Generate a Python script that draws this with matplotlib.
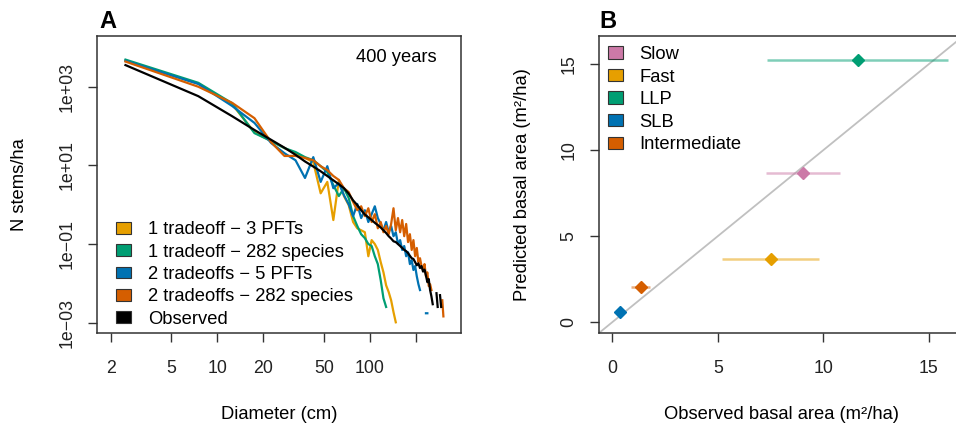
import numpy as np
import matplotlib
matplotlib.use("Agg")
import matplotlib.pyplot as plt
from matplotlib.patches import Rectangle
from matplotlib.ticker import NullLocator, FixedLocator, FixedFormatter

plt.rcParams['font.family'] = ['Liberation Sans', 'DejaVu Sans']

nan = np.nan

# ---------------- Panel A data: size distributions (log10 N stems/ha) -----------
diameter_cm = [2.5, 7.5, 12.5, 17.5, 22.5, 27.5, 32.5, 37.5, 42.5, 47.5,
               52.5, 57.5, 62.5, 67.5, 72.5, 77.5, 82.5, 87.5, 92.5, 97.5,
               102.5, 107.5, 112.5, 117.5, 122.5, 127.5, 132.5, 137.5, 142.5, 147.5,
               152.5, 157.5, 162.5, 167.5, 172.5, 177.5, 182.5, 187.5, 192.5, 197.5,
               202.5, 207.5, 212.5, 217.5, 222.5, 227.5, 232.5, 237.5, 242.5, 247.5,
               252.5, 257.5, 262.5, 267.5, 272.5, 277.5, 282.5, 287.5, 292.5, 297.5,
               302.5]

tradeoff1_3pft_log = [3.66, 3.08, 2.55, 1.84, 1.62, 1.44, 1.31, 1.19, 1.08, 0.29,
                      0.58, -0.39, 0.63, 0.22, -0.01, -0.44, -0.60, -0.65, -0.70, -1.31,
                      -0.90, -1.00, -1.15, -1.46, -1.72, -2.05, -2.22, -2.43, -2.73, -2.99,
                      nan, nan, nan, nan, nan, nan, nan, nan, nan, nan,
                      nan, nan, nan, nan, nan, nan, nan, nan, nan, nan,
                      nan, nan, nan, nan, nan, nan, nan, nan, nan, nan,
                      nan]

tradeoff1_282sp_log = [3.69, 3.10, 2.58, 1.82, 1.62, 1.44, 1.34, 1.21, 1.13, 0.98,
                       0.83, 0.50, 0.22, 0.42, 0.17, -0.29, -0.54, -0.75, -0.85, -1.00,
                       -1.05, -1.31, -1.51, -1.92, -2.38, -2.60, nan, nan, nan, nan,
                       nan, nan, nan, nan, nan, nan, nan, nan, nan, nan,
                       nan, nan, nan, nan, nan, nan, nan, nan, nan, nan,
                       nan, nan, nan, nan, nan, nan, nan, nan, nan, nan,
                       nan]

tradeoff2_5pft_log = [3.66, 3.07, 2.51, 2.08, 1.57, 1.31, 1.13, 0.68, 1.21, 0.58,
                      0.98, 0.42, 0.55, 0.24, 0.01, -0.29, 0.02, -0.34, -0.14, -0.44,
                      -0.24, -0.04, -0.34, -0.49, -0.65, -0.44, -0.70, -0.54, -0.80, -0.70,
                      -1.00, -0.90, -1.15, -1.05, -1.31, -1.21, -1.51, -1.41, -1.66, -1.56,
                      -1.82, -2.02, -2.17, nan, nan, nan, -2.76, -2.76, nan, nan,
                      nan, nan, nan, nan, nan, nan, nan, nan, nan, nan,
                      nan]

tradeoff2_282sp_log = [3.64, 3.00, 2.59, 2.20, 1.59, 1.24, 1.24, 1.19, 1.13, 0.98,
                       0.88, 0.73, 0.63, 0.42, 0.32, 0.07, -0.14, -0.04, -0.29, -0.09,
                       -0.44, -0.24, -0.60, -0.44, -0.70, -0.54, -0.75, -0.49, -0.09, -0.65,
                       -0.34, -0.70, -0.39, -0.80, -0.49, -0.95, -0.75, -1.15, -0.90, -1.31,
                       -1.10, -1.46, -1.36, -1.56, -1.66, -1.51, -1.82, -1.72, -2.07, -2.02,
                       -2.17, nan, nan, nan, nan, nan, nan, nan, nan, -2.43,
                       -2.84]

observed_log = [3.55, 2.76, 2.25, 1.90, 1.65, 1.45, 1.27, 1.10, 0.97, 0.85,
                0.73, 0.62, 0.52, 0.42, 0.28, 0.11, -0.01, -0.14, -0.25, -0.32,
                -0.39, -0.46, -0.52, -0.58, -0.65, -0.72, -0.80, -0.86, -0.93, -0.95,
                -1.00, -1.05, -1.10, -1.15, -1.18, -1.23, -1.30, -1.36, -1.38, -1.46,
                -1.54, -1.49, -1.61, -1.56, -1.70, -1.65, -1.80, -1.97, -1.89, -2.17,
                -2.33, -2.53, nan, nan, -2.25, -2.60, nan, -2.30, -2.60, nan,
                nan]

legA_labels = ["1 tradeoff \u2212 3 PFTs", "1 tradeoff \u2212 282 species",
               "2 tradeoffs \u2212 5 PFTs", "2 tradeoffs \u2212 282 species", "Observed"]
legA_colors = ["#E69F00", "#009E73", "#0072B2", "#D55E00", "#000000"]

xticksA = [2, 5, 10, 20, 50, 100, 200]
xticklabelsA = ["2", "5", "10", "20", "50", "100", ""]
yticksA = [1e-3, 1e-1, 1e1, 1e3]
yticklabelsA = ["1e\u221203", "1e\u221201", "1e+01", "1e+03"]

# ---------------- Panel B data: basal area ----------------
groups = ["Slow", "Fast", "LLP", "SLB", "Intermediate"]
group_colors = ["#CC79A7", "#E69F00", "#009E73", "#0072B2", "#D55E00"]
observed_ba = [9.02, 7.50, 11.63, 0.35, 1.33]
predicted_ba = [8.68, 3.65, 15.25, 0.58, 2.06]
observed_lo = [7.28, 5.20, 7.34, 0.35, 0.90]
observed_hi = [10.79, 9.79, 15.93, 0.35, 1.77]
ticksB = [0, 5, 10, 15]

# ---------------- figure ----------------
W, H = 956, 423
fig = plt.figure(figsize=(W / 100, H / 100), dpi=100)
fig.patch.set_facecolor("white")


def px_axes(l, t, r, b):
    return [l / W, 1 - b / H, (r - l) / W, (b - t) / H]


axA = fig.add_axes(px_axes(97, 36, 461, 333))
axB = fig.add_axes(px_axes(599, 36, 964.4, 333))

spine_col = "#333333"
for ax in (axA, axB):
    for s in ax.spines.values():
        s.set_color(spine_col)
        s.set_linewidth(1.1)
    ax.tick_params(direction="out", length=6.5, width=1.0, color=spine_col,
                   labelsize=12.8, labelcolor="#222222")
    ax.tick_params(axis="x", pad=13)
    ax.tick_params(axis="y", pad=9, labelrotation=90)

# ---- Panel A ----
d = np.array(diameter_cm)
series = [tradeoff1_3pft_log, tradeoff1_282sp_log, tradeoff2_5pft_log,
          tradeoff2_282sp_log, observed_log]
for vals, col in zip(series, legA_colors):
    axA.plot(d, 10 ** np.array(vals), color=col, lw=1.6, solid_joinstyle="round")

axA.set_xscale("log")
axA.set_yscale("log")
axA.set_xlim(1.627, 394.5)
axA.set_ylim(10 ** -3.262, 10 ** 4.290)
axA.xaxis.set_major_locator(FixedLocator(xticksA))
axA.xaxis.set_major_formatter(FixedFormatter(xticklabelsA))
axA.xaxis.set_minor_locator(NullLocator())
axA.yaxis.set_major_locator(FixedLocator(yticksA))
axA.yaxis.set_major_formatter(FixedFormatter(yticklabelsA))
axA.yaxis.set_minor_locator(NullLocator())
for lab in axA.get_yticklabels():
    lab.set_va("center")

axA.set_xlabel("Diameter (cm)", fontsize=13.2)
axA.set_ylabel("N stems/ha", fontsize=13.2)
axA.xaxis.set_label_coords(0.5, -0.275)
axA.xaxis.label.set_va("center")
axA.yaxis.set_label_coords(-0.212, 0.5)
axA.yaxis.label.set_va("center")

axA.text(0.934, 0.926, "400 years", transform=axA.transAxes, ha="right",
         va="center", fontsize=13.2)

for i, (lab, col) in enumerate(zip(legA_labels, legA_colors)):
    yc = 0.3545 - i * 0.0754
    axA.add_patch(Rectangle((0.0522, yc - 0.0197), 0.0404, 0.0394,
                            transform=axA.transAxes, facecolor=col,
                            edgecolor="#333333", lw=0.8))
    axA.text(0.1393, yc, lab, transform=axA.transAxes, ha="left",
             va="center_baseline", fontsize=13.2)

# ---- Panel B ----
axB.set_xlim(-0.64, 16.69)
axB.set_ylim(-0.64, 16.64)
axB.axline((0, 0), slope=1, color="#C0C0C0", lw=1.3, zorder=1)
for i in range(len(groups)):
    axB.plot([observed_lo[i], observed_hi[i]], [predicted_ba[i], predicted_ba[i]],
             color=group_colors[i], alpha=0.5, lw=1.8, solid_capstyle="butt", zorder=2)
    axB.plot([observed_ba[i]], [predicted_ba[i]], marker="D", ms=5.8,
             color=group_colors[i], mec=group_colors[i], ls="none", zorder=3)

axB.xaxis.set_major_locator(FixedLocator(ticksB))
axB.yaxis.set_major_locator(FixedLocator(ticksB))
for lab in axB.get_yticklabels():
    lab.set_va("center")

axB.set_xlabel("Observed basal area (m\u00b2/ha)", fontsize=13.2)
axB.set_ylabel("Predicted basal area (m\u00b2/ha)", fontsize=13.2)
axB.xaxis.set_label_coords(0.5, -0.275)
axB.xaxis.label.set_va("center")
axB.yaxis.set_label_coords(-0.208, 0.5)
axB.yaxis.label.set_va("center")

for i, (lab, col) in enumerate(zip(groups, group_colors)):
    yc = 0.9438 - i * 0.0758
    axB.add_patch(Rectangle((0.0246, yc - 0.021), 0.0402, 0.042,
                            transform=axB.transAxes, facecolor=col,
                            edgecolor="#333333", lw=0.8))
    axB.text(0.1095, yc, lab, transform=axB.transAxes, ha="left",
             va="center_baseline", fontsize=13.2)

# panel letters
fig.text(99 / W, 1 - 22 / H, "A", fontsize=17, fontweight="bold", va="center", ha="left")
fig.text(599 / W, 1 - 22 / H, "B", fontsize=17, fontweight="bold", va="center", ha="left")

fig.savefig("out.png", dpi=100, facecolor="white")
